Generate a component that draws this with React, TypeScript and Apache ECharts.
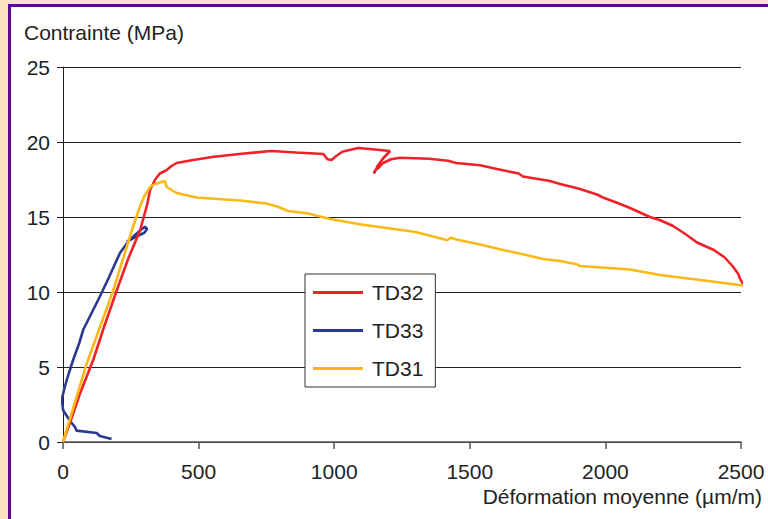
import React, { useEffect, useRef } from "react";
import * as echarts from "echarts";

const xTicks = [0, 500, 1000, 1500, 2000, 2500];
const yTicks = [0, 5, 10, 15, 20, 25];
const seriesNames = ["TD32", "TD33", "TD31"];

const td32: [number, number][] = [
  [0, 0], [30, 1.5], [60, 3.1], [112, 5.5], [150, 7.6], [198, 10.1], [240, 12.2], [284, 14.1],
  [310, 15.8], [321, 16.8], [340, 17.5], [357, 17.9], [380, 18.1], [400, 18.4], [419, 18.6],
  [480, 18.8], [550, 19.0], [650, 19.2], [767, 19.4], [860, 19.3], [960, 19.2], [975, 18.85],
  [990, 18.8], [1010, 19.1], [1030, 19.35], [1088, 19.6], [1150, 19.5], [1206, 19.4],
  [1180, 18.9], [1160, 18.4], [1147, 17.9], [1150, 18.1], [1165, 18.3], [1180, 18.6],
  [1210, 18.85], [1243, 18.95], [1350, 18.88], [1420, 18.75], [1450, 18.6], [1538, 18.45],
  [1600, 18.2], [1680, 17.9], [1696, 17.7], [1796, 17.4], [1833, 17.2], [1900, 16.9],
  [1969, 16.5], [1991, 16.3], [2050, 15.9], [2091, 15.6], [2164, 15.0], [2200, 14.8],
  [2250, 14.4], [2300, 13.8], [2338, 13.3], [2400, 12.8], [2440, 12.3], [2470, 11.7],
  [2490, 11.2], [2496, 10.9], [2505, 10.6], [2522, 10.6], [2533, 10.8],
];

const td33: [number, number][] = [
  [179, 0.2], [136, 0.4], [124, 0.6], [50, 0.76], [44, 1.0], [26, 1.4], [1, 2.1], [-5, 2.8],
  [7, 3.7], [20, 4.5], [38, 5.5], [60, 6.6], [75, 7.5], [100, 8.4], [136, 9.7], [170, 11.0],
  [210, 12.6], [230, 13.1], [247, 13.5], [284, 14.1], [302, 14.35], [310, 14.2], [300, 13.95],
  [271, 13.7], [235, 13.36],
];

const td31: [number, number][] = [
  [0, 0], [87, 5.2], [185, 10.1], [259, 14.4], [284, 15.7], [300, 16.4], [321, 17.0], [340, 17.2],
  [376, 17.4], [382, 17.0], [419, 16.6], [493, 16.3], [653, 16.1], [750, 15.9], [790, 15.7],
  [830, 15.4], [900, 15.25], [985, 14.87], [1100, 14.5], [1200, 14.25], [1300, 14.0],
  [1390, 13.58], [1416, 13.45], [1430, 13.62], [1450, 13.5], [1530, 13.2], [1623, 12.8],
  [1700, 12.5], [1770, 12.2], [1833, 12.07], [1895, 11.85], [1906, 11.73], [2091, 11.5],
  [2201, 11.13], [2350, 10.8], [2522, 10.4],
];

const colors = ["#EE2228", "#2B3990", "#FBB917"];
const FONT = "Liberation Sans, Arial, Helvetica, sans-serif";
const FS = 21;

export default function App() {
  const ref = useRef<HTMLDivElement>(null);
  useEffect(() => {
    if (!ref.current) return;
    const chart = echarts.init(ref.current, undefined, { renderer: "svg" });
    const datasets = [td32, td33, td31];
    chart.setOption({
      animation: false,
      backgroundColor: "transparent",
      textStyle: { fontFamily: FONT },
      grid: { left: 63, right: 27, top: 67, bottom: 77, containLabel: false },
      xAxis: {
        type: "value",
        min: xTicks[0],
        max: xTicks[xTicks.length - 1],
        interval: 500,
        axisLine: { show: true, lineStyle: { color: "#555", width: 1.5 } },
        axisTick: { show: true, length: 7, lineStyle: { color: "#555", width: 1.5 } },
        axisLabel: {
          color: "#222",
          fontSize: FS,
          fontFamily: FONT,
          margin: 19,
          formatter: (v: number) => String(v),
        },
        splitLine: { show: false },
      },
      yAxis: {
        type: "value",
        min: yTicks[0],
        max: yTicks[yTicks.length - 1],
        interval: 5,
        axisLine: { show: true, onZero: false, lineStyle: { color: "#222", width: 1 } },
        axisTick: { show: true, length: 6, lineStyle: { color: "#222" } },
        axisLabel: {
          color: "#222",
          fontSize: FS,
          fontFamily: FONT,
          margin: 13,
          verticalAlign: "middle",
          padding: [0, 0, 10, 0],
          formatter: (v: number) => String(v),
        },
        splitLine: { show: true, lineStyle: { color: "#222", width: 1 } },
      },
      legend: {
        orient: "vertical",
        left: 305,
        top: 274,
        backgroundColor: "#fff",
        borderColor: "#333",
        borderWidth: 1,
        borderRadius: 0,
        padding: [8, 12, 8, 8],
        icon: "rect",
        itemWidth: 50,
        itemHeight: 3,
        itemGap: 17,
        textStyle: { color: "#222", fontSize: FS, lineHeight: 20, fontFamily: FONT, padding: [0, 0, 0, 4] },
        data: seriesNames,
      },
      graphic: [
        {
          type: "text",
          left: 24,
          top: 22,
          style: { text: "Contrainte (MPa)", fontSize: FS, fontFamily: FONT, fill: "#222" },
        },
        {
          type: "text",
          right: 6,
          top: 486,
          style: { text: "Déformation moyenne (µm/m)", fontSize: FS, fontFamily: FONT, fill: "#222" },
        },
      ],
      series: seriesNames.map((name, i) => ({
        name,
        type: "line",
        data: datasets[i],
        symbol: "none",
        clip: false,
        z: i === 2 ? 4 : i === 0 ? 3 : 2,
        lineStyle: { color: colors[i], width: 2.6 },
        itemStyle: { color: colors[i] },
      })),
    });
    return () => chart.dispose();
  }, []);

  return (
    <div style={{ position: "fixed", left: 0, top: 0, width: 768, height: 519, background: "#FEE3C1", overflow: "hidden" }}>
      <div
        style={{
          position: "absolute",
          left: 8,
          top: 4,
          right: 0,
          bottom: 0,
          background: "#fff",
          borderLeft: "3px solid #5C0A8E",
          borderTop: "3px solid #5C0A8E",
        }}
      />
      <div ref={ref} style={{ position: "absolute", left: 0, top: 0, width: 768, height: 519 }} />
    </div>
  );
}
